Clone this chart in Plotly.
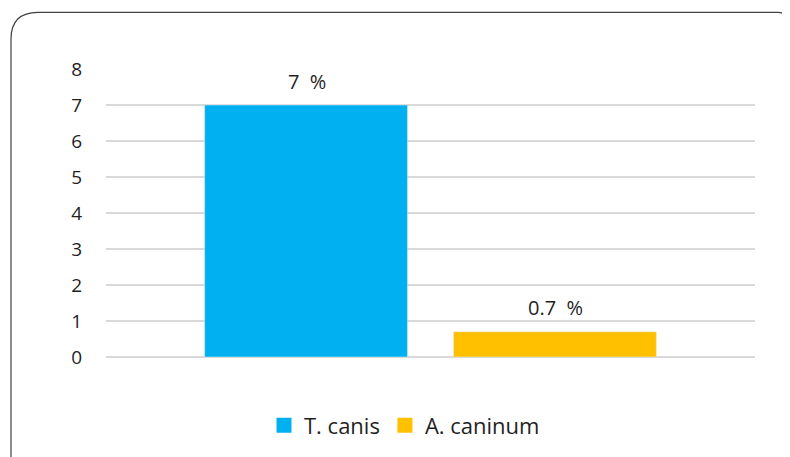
import plotly.graph_objects as go

categories = ["Prevalence"]
series_names = ["T. canis", "A. caninum"]
series_values = [[7], [0.7]]
series_labels = ["7\u00a0\u00a0%", "0.7\u00a0\u00a0%"]
series_colors = ["#00B0F0", "#FFC000"]
y_ticks = [0, 1, 2, 3, 4, 5, 6, 7, 8]

OFF = 8  # browser body margin
W, H = 790 - OFF, 457 - OFF
L, T = 106 - OFF, 69 - OFF
R = W - (755 - OFF)
B = H - (358.5 - OFF)
pw, ph = W - L - R, H - T - B

def px(x):
    return (x - OFF - L) / pw

def py(y):
    return (H - B - (y - OFF)) / ph

FONT = "'Open Sans', Lato, sans-serif"
TXT = "#1F1F1F"

fig = go.Figure()
for name, vals, col in zip(series_names, series_values, series_colors):
    fig.add_trace(go.Bar(x=categories, y=vals, name=name, marker_color=col,
                         showlegend=False, legendgroup=name))
# legend entries with larger square swatches
for name, col in zip(series_names, series_colors):
    fig.add_trace(go.Scatter(x=[None], y=[None], mode="markers", name=name,
                             legendgroup=name,
                             marker=dict(symbol="square", size=15, color=col)))

shifts = [-124, 124.5]
for vals, lab, sh in zip(series_values, series_labels, shifts):
    fig.add_annotation(x=categories[0], y=vals[0], text=lab, showarrow=False,
                       xshift=sh, yshift=24, yanchor="middle",
                       font=dict(family=FONT, size=20, color=TXT))

# rounded outer border
r = 27
x0, x1, y0, y1 = 11, 784, 12, 470
path = (f"M {px(x0)},{py(y1)} L {px(x0)},{py(y0 + r)} "
        f"Q {px(x0)},{py(y0)} {px(x0 + r)},{py(y0)} "
        f"L {px(x1 - 6)},{py(y0)} Q {px(x1)},{py(y0)} {px(x1)},{py(y0 + 4)}")
fig.add_shape(type="path", path=path, xref="paper", yref="paper",
              line=dict(color="#404040", width=1.2))

fig.update_layout(
    width=W, height=H,
    margin=dict(l=L, r=R, t=T, b=B),
    paper_bgcolor="white", plot_bgcolor="white",
    barmode="group", bargap=0.233, bargroupgap=0.185,
    font=dict(family=FONT, size=19, color=TXT),
    showlegend=True,
    legend=dict(orientation="h", x=px(264), xanchor="left", y=py(426), yanchor="middle",
                font=dict(family=FONT, size=22, color=TXT), itemwidth=30,
                traceorder="normal", itemsizing="trace"),
    xaxis=dict(showticklabels=False, showgrid=False, zeroline=False, showline=False),
    yaxis=dict(range=[0, 8], tickvals=y_ticks, showgrid=True, gridcolor="#D9D9D9",
               gridwidth=1.5, zeroline=True, zerolinecolor="#D9D9D9", zerolinewidth=1.5,
               showline=False, ticks="", ticklabelstandoff=23,
               tickfont=dict(family=FONT, size=19, color=TXT)),
)

fig.write_html("out.html")
